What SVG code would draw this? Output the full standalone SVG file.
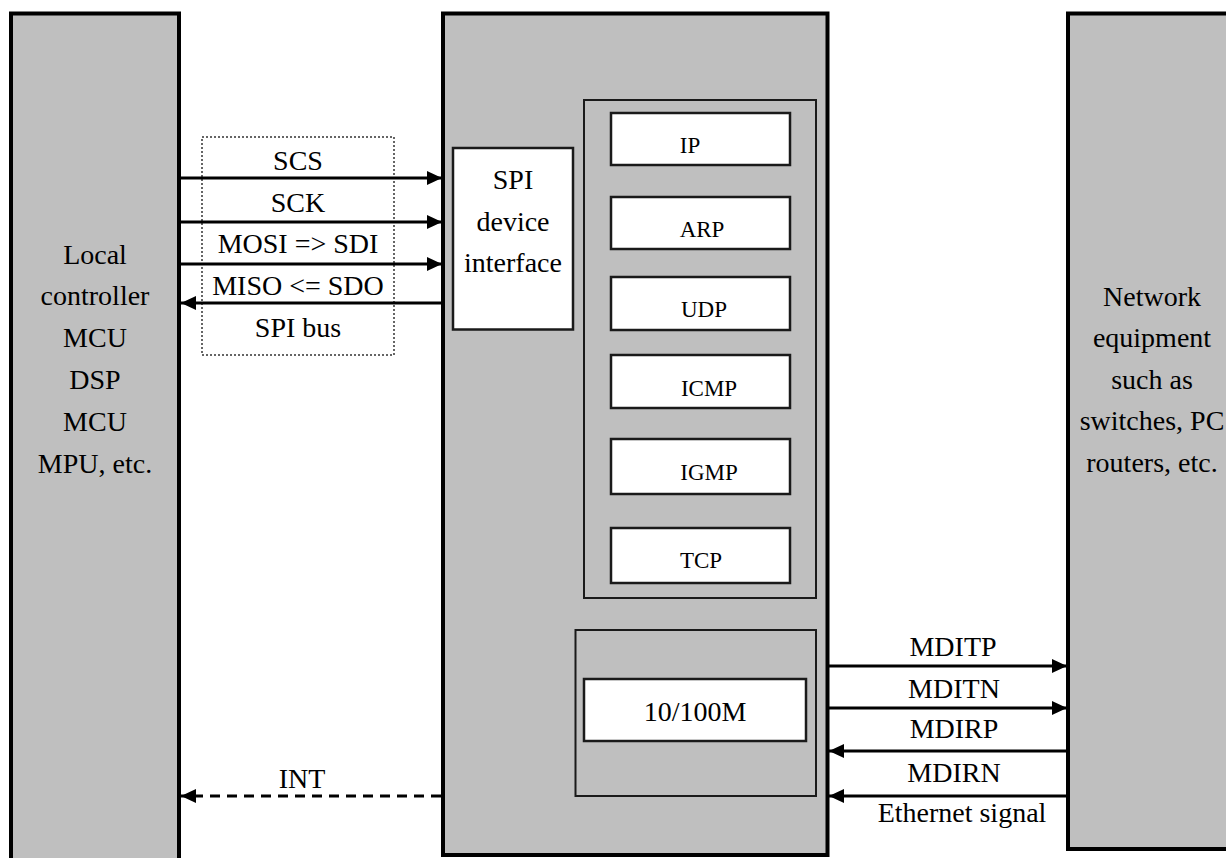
<svg xmlns="http://www.w3.org/2000/svg" width="1226" height="858" viewBox="0 0 1226 858">
<style>
.big{fill:#bfbfbf;stroke:#000;stroke-width:4}
.cont{fill:#bfbfbf;stroke:#1a1a1a;stroke-width:2}
.wb{fill:#fff;stroke:#1a1a1a;stroke-width:2.5}
text{font-family:"Liberation Serif",serif;fill:#000;text-anchor:middle}
.lbl{font-size:28px}
.sm{font-size:23px}
.ln{stroke:#000;stroke-width:3;fill:none}
.dash{stroke:#000;stroke-width:3;fill:none;stroke-dasharray:10,7}
</style>
<defs>
<marker id="ah" markerUnits="userSpaceOnUse" markerWidth="15" markerHeight="14" refX="15" refY="7" orient="auto">
<path d="M0,0 L15,7 L0,14 z" fill="#000"/>
</marker>
</defs>
<rect width="1226" height="858" fill="#fff"/>
<g id="local-controller">
<rect class="big" x="11" y="13.5" width="168" height="860"/>
<text class="lbl" x="95" y="264">Local</text>
<text class="lbl" x="95" y="305">controller</text>
<text class="lbl" x="95" y="347">MCU</text>
<text class="lbl" x="95" y="389">DSP</text>
<text class="lbl" x="95" y="431">MCU</text>
<text class="lbl" x="95" y="473">MPU, etc.</text>
</g>
<g id="network-equipment">
<rect class="big" x="1068" y="13.5" width="200" height="835.5"/>
<text class="lbl" x="1152" y="306">Network</text>
<text class="lbl" x="1152" y="347">equipment</text>
<text class="lbl" x="1152" y="389">such as</text>
<text class="lbl" x="1152" y="430">switches, PC</text>
<text class="lbl" x="1152" y="472">routers, etc.</text>
</g>
<g id="chip">
<rect class="big" x="443" y="13.5" width="384.5" height="841.5"/>
</g>
<g id="spi-interface">
<rect class="wb" x="453" y="148" width="120" height="181.5"/>
<text class="lbl" x="513" y="189">SPI</text>
<text class="lbl" x="513" y="231">device</text>
<text class="lbl" x="513" y="272">interface</text>
</g>
<g id="protocol-stack">
<rect class="cont" x="584" y="100" width="232" height="498"/>
</g>
<g id="ip"><rect class="wb" x="611" y="113" width="179" height="52"/><text class="sm" x="690" y="153">IP</text></g>
<g id="arp"><rect class="wb" x="611" y="197" width="179" height="52"/><text class="sm" x="702" y="237">ARP</text></g>
<g id="udp"><rect class="wb" x="611" y="277" width="179" height="53"/><text class="sm" x="704" y="317">UDP</text></g>
<g id="icmp"><rect class="wb" x="611" y="355" width="179" height="53"/><text class="sm" x="709" y="396">ICMP</text></g>
<g id="igmp"><rect class="wb" x="611" y="439" width="179" height="55"/><text class="sm" x="709" y="480">IGMP</text></g>
<g id="tcp"><rect class="wb" x="611" y="528" width="179" height="55"/><text class="sm" x="701" y="568">TCP</text></g>
<g id="phy">
<rect class="cont" x="575.5" y="630" width="240.5" height="166"/>
</g>
<g id="phy-10-100m">
<rect class="wb" x="584" y="679" width="222" height="62"/>
<text class="lbl" x="695" y="721">10/100M</text>
</g>
<g id="spi-bus">
<rect x="202" y="137" width="192" height="218" fill="none" stroke="#333" stroke-width="1.5" stroke-dasharray="2,2"/>
<text class="lbl" x="298" y="337">SPI bus</text>
</g>
<g id="connectors">
<line class="ln" x1="181" y1="178" x2="442" y2="178" marker-end="url(#ah)"/>
<line class="ln" x1="181" y1="222" x2="442" y2="222" marker-end="url(#ah)"/>
<line class="ln" x1="181" y1="264" x2="442" y2="264" marker-end="url(#ah)"/>
<line class="ln" x1="442" y1="303" x2="181" y2="303" marker-end="url(#ah)"/>
<line class="dash" x1="441" y1="796" x2="181" y2="796" marker-end="url(#ah)"/>
<line class="ln" x1="829" y1="666" x2="1067" y2="666" marker-end="url(#ah)"/>
<line class="ln" x1="829" y1="708" x2="1067" y2="708" marker-end="url(#ah)"/>
<line class="ln" x1="1066" y1="751" x2="829" y2="751" marker-end="url(#ah)"/>
<line class="ln" x1="1066" y1="796" x2="829" y2="796" marker-end="url(#ah)"/>
<text class="lbl" x="298" y="170">SCS</text>
<text class="lbl" x="298" y="212">SCK</text>
<text class="lbl" x="298" y="253">MOSI =&gt; SDI</text>
<text class="lbl" x="298" y="295">MISO &lt;= SDO</text>
<text class="lbl" x="302" y="788">INT</text>
<text class="lbl" x="953" y="656">MDITP</text>
<text class="lbl" x="954" y="698">MDITN</text>
<text class="lbl" x="954" y="738">MDIRP</text>
<text class="lbl" x="954" y="782">MDIRN</text>
<text class="lbl" x="962" y="822">Ethernet signal</text>
</g>
</svg>
